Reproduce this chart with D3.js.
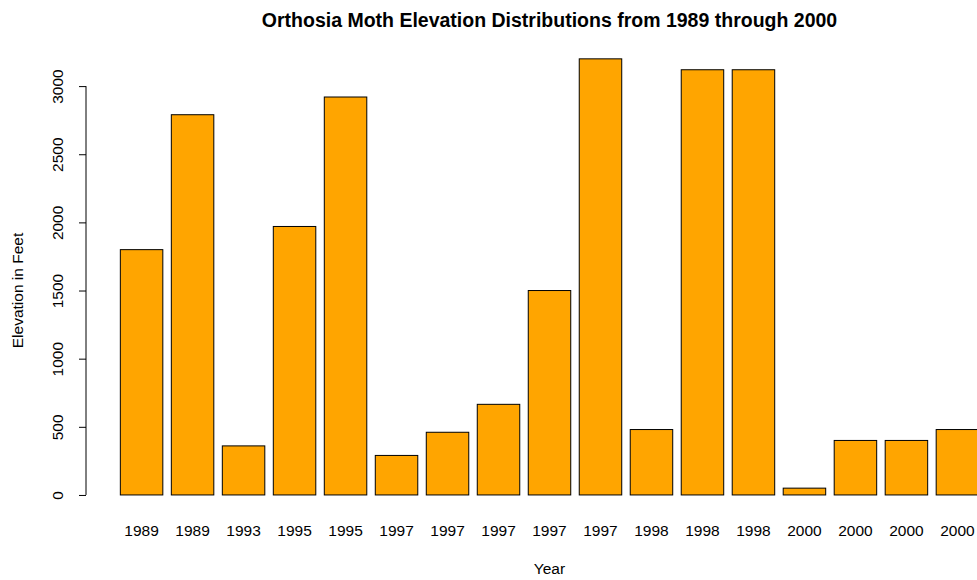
<!DOCTYPE html>
<html><head><meta charset="utf-8">
<script src="https://cdn.jsdelivr.net/npm/d3@7"></script>
<style>body{margin:0;background:#fff}svg{display:block}text{font-family:"Liberation Sans",Arial,Helvetica,sans-serif}</style>
</head><body>
<script>
const years = ["1989","1989","1993","1995","1995","1997","1997","1997","1997","1997","1998","1998","1998","2000","2000","2000","2000"];
const elevations = [1800, 2790, 360, 1970, 2920, 290, 460, 665, 1500, 3200, 480, 3120, 3120, 50, 400, 400, 480];
const yTicks = [0, 500, 1000, 1500, 2000, 2500, 3000];
const titleText = "Orthosia Moth Elevation Distributions from 1989 through 2000";

const W = 977, H = 580;
const svg = d3.select("body").append("svg").attr("width", W).attr("height", H);

// R barplot geometry: width 1, space 0.2
const n = elevations.length;
const xMin = 0.2, xMax = n * 1.2;
const xPad = (xMax - xMin) * 0.04;
const x = d3.scaleLinear().domain([xMin - xPad, xMax + xPad]).range([86, 1013]);
const yMaxV = d3.max(elevations);
const y = d3.scaleLinear().domain([-yMaxV * 0.04, yMaxV * 1.04]).range([512.4, 41.4]);

svg.append("g").selectAll("rect").data(elevations).join("rect")
  .attr("x", (d, i) => x(0.2 + i * 1.2))
  .attr("width", (d, i) => x(1.2 + i * 1.2) - x(0.2 + i * 1.2))
  .attr("y", d => y(d))
  .attr("height", d => y(0) - y(d))
  .attr("fill", "#FFA500")
  .attr("stroke", "#000")
  .attr("stroke-width", 1);

// y axis
const yAxis = d3.axisLeft(y).tickValues(yTicks).tickSize(7).tickPadding(0).tickFormat(d3.format("d"));
const gy = svg.append("g").attr("transform", "translate(86,0)").call(yAxis);
gy.select(".domain").attr("d", `M0,${y(0)}V${y(3000)}`).attr("stroke", "#000");
gy.selectAll(".tick line").attr("stroke", "#000");
gy.selectAll(".tick text")
  .attr("x", null).attr("dy", null)
  .attr("transform", "translate(-23,0) rotate(-90)")
  .attr("text-anchor", "middle")
  .attr("font-size", 15.5).attr("fill", "#000");

// x labels
svg.append("g").selectAll("text").data(years).join("text")
  .attr("x", (d, i) => x(0.7 + i * 1.2))
  .attr("y", 536)
  .attr("text-anchor", "middle")
  .attr("font-size", 15.5)
  .text(d => d);

svg.append("text").attr("x", x((xMin + xMax) / 2)).attr("y", 574)
  .attr("text-anchor", "middle").attr("font-size", 15.5).text("Year");

svg.append("text").attr("transform", `translate(23,${y(1500)}) rotate(-90)`)
  .attr("text-anchor", "middle").attr("font-size", 15.5).text("Elevation in Feet");

svg.append("text").attr("x", x((xMin + xMax) / 2)).attr("y", 27)
  .attr("text-anchor", "middle").attr("font-size", 19.5).attr("font-weight", "bold").text(titleText);
</script>
</body></html>
